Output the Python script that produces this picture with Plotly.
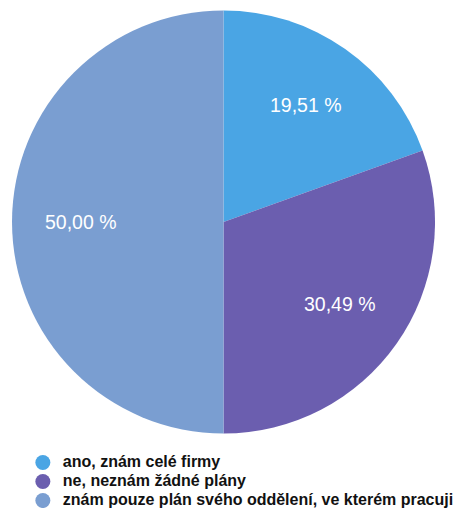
import math
import plotly.graph_objects as go

categories = ["ano, znám celé firmy", "ne, neznám žádné plány",
              "znám pouze plán svého oddělení, ve kterém pracuji"]
shares = [19.51, 30.49, 50.00]
colors = ["#4AA5E4", "#6B5EAF", "#7A9ED1"]
labels = [f"{v:.2f} %".replace(".", ",") for v in shares]

W, H = 457, 508
dom_x = [0.0263, 0.9519]
dom_y = [0.1437, 0.9823]

fig = go.Figure()
fig.add_trace(go.Pie(
    labels=categories, values=shares,
    textinfo="none",
    marker=dict(colors=colors, line=dict(width=0)),
    sort=False, direction="clockwise", rotation=0,
    domain=dict(x=dom_x, y=dom_y),
    showlegend=False, hoverinfo="label+percent",
))

# value labels placed at the mid-angle of each slice
cx = (dom_x[0] + dom_x[1]) / 2 * W
cy = (1 - (dom_y[0] + dom_y[1]) / 2) * H
R = min((dom_x[1] - dom_x[0]) * W, (dom_y[1] - dom_y[0]) * H) / 2
total = sum(shares)
start = 0.0
for v, t in zip(shares, labels):
    mid = (start + v / 2) / total * 2 * math.pi
    start += v
    px = cx + 0.675 * R * math.sin(mid)
    py = cy - 0.675 * R * math.cos(mid)
    fig.add_annotation(x=px / W, y=1 - py / H, xref="paper", yref="paper",
                       xanchor="center", yanchor="middle",
                       text=t, showarrow=False,
                       font=dict(family="Liberation Sans, Arial, sans-serif",
                                 size=19.5, color="white"))

# circle markers for the legend entries
for name, c in zip(categories, colors):
    fig.add_trace(go.Scatter(x=[None], y=[None], mode="markers",
                             name=f'<span style="font-size:16px">{name}</span>',
                             marker=dict(symbol="circle", size=15, color=c)))

fig.update_layout(
    width=W, height=H,
    margin=dict(l=0, r=0, t=0, b=0, autoexpand=False),
    paper_bgcolor="white", plot_bgcolor="white",
    xaxis=dict(visible=False), yaxis=dict(visible=False),
    legend=dict(x=0.05, y=0.118, xanchor="left", yanchor="top",
                font=dict(family="Liberation Sans, Arial, sans-serif", size=12,
                          color="#111111", weight="bold"),
                itemsizing="trace", tracegroupgap=0, maxheight=1),
    font=dict(family="Liberation Sans, Arial, sans-serif"),
)

fig.write_html("out.html")
